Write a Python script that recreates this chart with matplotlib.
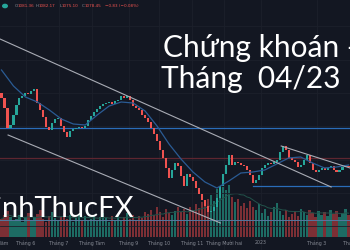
import matplotlib
matplotlib.use("Agg")
import matplotlib.pyplot as plt
import matplotlib.transforms as mtransforms
import numpy as np
import pandas as pd

# ---------------- data ----------------
closes = [
    1285, 1255, 1195, 1204, 1234, 1264, 1285, 1291, 1300, 1297,
    1306, 1312, 1270, 1249, 1228, 1198, 1189, 1210, 1222, 1225,
    1201, 1183, 1168, 1186, 1192, 1195, 1199, 1194, 1201, 1219,
    1231, 1243, 1252, 1261, 1267, 1270, 1273, 1268, 1276, 1279,
    1291, 1286, 1290, 1279, 1261, 1255, 1249, 1234, 1225, 1213,
    1195, 1177, 1156, 1129, 1105, 1075, 1045, 1069, 1090, 1081,
    1051, 1021, 1057, 1048, 1036, 1015, 997, 979, 961, 943,
    946, 958, 985, 1021, 1057, 1084, 1114, 1084, 1093, 1090,
    1084, 1081, 1069, 1054, 1030, 1039, 1054, 1075, 1084, 1090,
    1087, 1093, 1099, 1123, 1141, 1129, 1105, 1099, 1093, 1078,
    1084, 1099, 1114, 1090, 1069, 1063, 1069, 1075, 1069, 1075,
    1081, 1069, 1063, 1069, 1078, 1081, 1078.45,
]
first_open = 1300

volumes = [
    720, 880, 1040, 800, 640, 720, 880, 600, 800, 960,
    680, 800, 920, 1080, 720, 600, 840, 1000, 760, 640,
    800, 960, 720, 880, 600, 760, 920, 680, 840, 640,
    720, 880, 640, 800, 960, 760, 600, 840, 680, 920,
    640, 800, 960, 720, 880, 680, 840, 760, 1000, 920,
    1080, 880, 1200, 1000, 800, 1120, 960, 880, 1040, 1200,
    1000, 1120, 920, 1200, 1080, 1320, 1160, 1400, 1240, 1520,
    1680, 1440, 1920, 1800, 2000, 1880, 2080,
    1600, 1400, 1520, 1240, 1360, 1160, 1440, 1200, 1080, 1320,
    960, 1120, 840, 1000, 1200, 1360, 1040, 880, 1080, 800,
    920, 1040, 840, 1120, 1000, 880, 1080, 960, 800, 1040,
    880, 1000, 840, 1080, 920, 1040, 800, 960, 1120, 880,
]

ma_index = list(range(0, 117, 4))
ma_values = [1369, 1321, 1288, 1273, 1249, 1222, 1207, 1204, 1234, 1261,
             1273, 1270, 1246, 1201, 1147, 1102, 1063, 1033, 1015, 1036,
             1060, 1063, 1069, 1087, 1105, 1108, 1090, 1075, 1078, 1084]

# horizontal levels
level_blue = 1195
level_red = 1105
level_support = 1021
level_support_start = 84.2
level_light = 919

# trend lines (index, price)
trend1 = ([-0.5, 110.2], [1462, 1018])
trend2 = ([2.2, 73.2], [1174, 910])
trend3 = ([93.5, 116.5], [1141, 1075])

month_pos = [-2.2, 8.2, 19.2, 30.2, 42.5, 52.8, 63.8, 74.5, 86.8, 105.5, 117.3]
month_labels = ["Tháng Năm", "Tháng 6", "Tháng 7", "Tháng Tám", "Tháng 9",
                "Tháng 10", "Tháng 11", "Tháng Mười hai", "2023", "Tháng 3", "Tháng 4"]

# ---------------- style ----------------
BG = "#131722"
UP = "#26a69a"
DOWN = "#ef5350"

fig = plt.figure(figsize=(3.5, 2.5), dpi=100, facecolor=BG)
ax2 = fig.add_axes([0, 0, 1, 1])
ax = fig.add_axes([0, 0, 1, 1], sharex=ax2)
for a in (ax, ax2):
    a.set_facecolor("none")
    for s in a.spines.values():
        s.set_visible(False)
    a.set_xticks([])
    a.set_yticks([])
ax2.set_facecolor(BG)

n = len(closes)
x = np.arange(n)
closes_arr = np.array(closes, dtype=float)
opens = np.concatenate([[first_open], closes_arr[:-1]])
up = closes_arr >= opens
colors = np.where(up, UP, DOWN)

ax.set_xlim(-0.5, n - 0.5)
ax.set_ylim(829, 1579)
ax2.set_ylim(-520, 9480)

# grid
for p in month_pos:
    ax2.axvline(p, color="#1c202b", lw=0.6, zorder=0)
for yv in range(900, 1600, 100):
    ax.axhline(yv, color="#1c202b", lw=0.6, zorder=0)

# volume
vol_colors = np.where(up, "#1d6b63", "#7c2f35")
ax2.bar(x, volumes, width=0.75, color=vol_colors, zorder=1)
vol_ma = pd.Series(volumes).rolling(10, min_periods=1).mean()
ax2.plot(x, vol_ma, color="#22524a", lw=0.7, zorder=2)

# levels
ax.axhline(level_blue, color="#2a6cb8", lw=0.9, zorder=1)
ax.axhline(level_red, color="#5e2630", lw=0.9, zorder=1)
ax.axhline(level_light, color="#55779e", lw=0.7, zorder=1)
ax.plot([level_support_start, n - 0.5], [level_support] * 2, color="#2a6cb8", lw=0.9, zorder=1)

# candles
heights = closes_arr - opens
heights = np.where(np.abs(heights) < 2, np.where(up, 2, -2), heights)
ax.bar(x, heights, bottom=opens, width=0.7, color=colors, zorder=3)

# moving average
ax.plot(ma_index, ma_values, color="#2a5b94", lw=0.9, zorder=4)

# trend lines
for tx, ty in (trend1, trend2, trend3):
    ax.plot(tx, ty, color="#a9acb5", lw=0.8, zorder=5)

# month labels
trans = mtransforms.blended_transform_factory(ax.transData, ax.transAxes)
for p, lab in zip(month_pos, month_labels):
    ax.text(p, 0.028, lab, transform=trans, ha="center", va="center",
            fontsize=3.4, color="#858993", zorder=6, clip_on=False)

# header
fig.patches.append(plt.Circle((5 / 350, 1 - 6 / 250), 0.0065, transform=fig.transFigure,
                              color=UP, figure=fig))
hdr = [(15, "O", "#8a8e99"), (17.5, "1081.36", DOWN), (35.5, "H", "#8a8e99"), (38.5, "1082.17", DOWN),
       (59.5, "L", "#8a8e99"), (62, "1075.10", DOWN), (81.5, "C", "#8a8e99"), (84.5, "1078.45", DOWN),
       (105, "−0.83 (−0.08%)", DOWN)]
for px, t, c in hdr:
    fig.text(px / 350, 1 - 6 / 250, t, fontsize=3.0, color=c, ha="left", va="center")

# big titles
fig.text(163 / 350, 1 - 57 / 250, "Chứng khoán -", fontsize=21.5, color="white",
         family="Lato", ha="left", va="baseline")
fig.text(161 / 350, 1 - 88 / 250, "Tháng  04/23", fontsize=21.5, color="white",
         family="Lato", ha="left", va="baseline")
fig.text(134 / 350, 1 - 217 / 250, "MinhThucFX", fontsize=21, color="white",
         family="Lato", ha="right", va="baseline")

fig.savefig("out.png", dpi=100, facecolor=BG)
